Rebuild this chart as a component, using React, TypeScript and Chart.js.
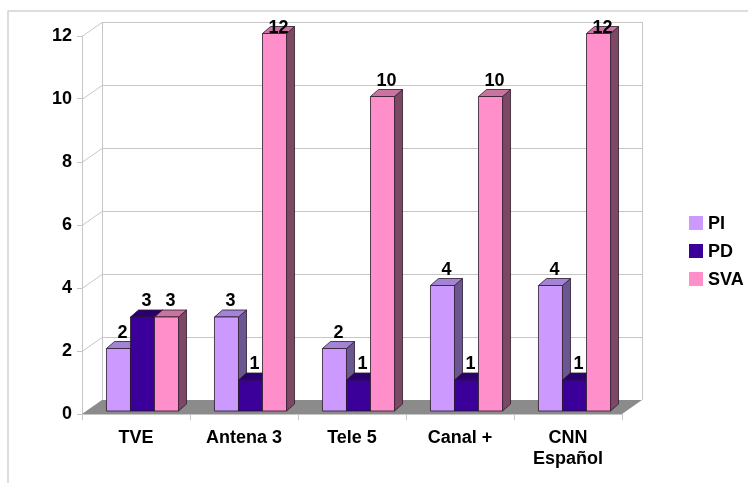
import React, { useEffect, useRef } from 'react';
import { Chart, registerables } from 'chart.js';

Chart.register(...registerables);

const categories: string[][] = [['TVE'], ['Antena 3'], ['Tele 5'], ['Canal +'], ['CNN', 'Español']];
const seriesNames = ['PI', 'PD', 'SVA'];
const piValues = [2, 3, 2, 4, 4];
const pdValues = [3, 1, 1, 1, 1];
const svaValues = [3, 12, 10, 10, 12];
const yMin = 0;
const yMax = 12;
const yStep = 2;

const faceColors = [
  { front: '#cc99ff', top: '#a383d6', side: '#6a5690' },
  { front: '#3a0099', top: '#2a0070', side: '#1f0052' },
  { front: '#ff8fcb', top: '#c9739f', side: '#7c4864' },
];

const FONT = 'bold 18px "Liberation Sans", Arial, sans-serif';
const GRID = '#c6c6c6';
const WALL_DX = 20;
const WALL_DY = -14;
const BAR_OX = 6.5;
const BAR_OY = -2.5;
const BAR_DX = 8;
const BAR_DY = -7;

const threeD = {
  id: 'threeD',
  beforeDraw(chart: any) {
    const ctx = chart.ctx;
    ctx.save();
    ctx.strokeStyle = '#d2d2d2';
    ctx.lineWidth = 1.5;
    ctx.beginPath();
    ctx.moveTo(8, chart.height);
    ctx.lineTo(8, 11);
    ctx.lineTo(chart.width - 1, 11);
    ctx.stroke();
    ctx.restore();
  },
  beforeDatasetsDraw(chart: any) {
    const ctx = chart.ctx;
    const x = chart.scales.x;
    const y = chart.scales.y;
    const L = x.left;
    const R = x.right;
    const yTop = y.getPixelForValue(yMax);
    const yBot = y.getPixelForValue(yMin);
    ctx.save();
    ctx.strokeStyle = GRID;
    ctx.lineWidth = 1;
    // floor
    ctx.fillStyle = '#8b8b8b';
    ctx.beginPath();
    ctx.moveTo(L, yBot);
    ctx.lineTo(R, yBot);
    ctx.lineTo(R + WALL_DX, yBot + WALL_DY);
    ctx.lineTo(L + WALL_DX, yBot + WALL_DY);
    ctx.closePath();
    ctx.fill();
    // grid lines on side and back wall
    for (let v = yMin + yStep; v <= yMax; v += yStep) {
      const py = Math.round(y.getPixelForValue(v)) + 0.5;
      ctx.beginPath();
      ctx.moveTo(L, py);
      ctx.lineTo(L + WALL_DX, py + WALL_DY);
      ctx.lineTo(R + WALL_DX, py + WALL_DY);
      ctx.stroke();
    }
    // back wall verticals
    ctx.beginPath();
    ctx.moveTo(L + WALL_DX + 0.5, yTop + WALL_DY);
    ctx.lineTo(L + WALL_DX + 0.5, yBot + WALL_DY);
    ctx.moveTo(R + WALL_DX + 0.5, yTop + WALL_DY);
    ctx.lineTo(R + WALL_DX + 0.5, yBot + WALL_DY);
    ctx.stroke();
    ctx.restore();
  },
  beforeDatasetDraw() {
    return false;
  },
  afterDatasetsDraw(chart: any) {
    const ctx = chart.ctx;
    const n = chart.data.labels.length;
    const metas = chart.data.datasets.map((_: any, i: number) => chart.getDatasetMeta(i));
    ctx.save();
    ctx.lineWidth = 0.8;
    ctx.strokeStyle = '#2a1a2a';
    ctx.lineJoin = 'round';
    for (let j = 0; j < n; j++) {
      metas.forEach((meta: any, i: number) => {
        const el = meta.data[j];
        const c = faceColors[i];
        const x0 = el.x - el.width / 2 + BAR_OX;
        const x1 = el.x + el.width / 2 + BAR_OX;
        const yt = el.y + BAR_OY;
        const yb = el.base + BAR_OY;
        // side
        ctx.fillStyle = c.side;
        ctx.beginPath();
        ctx.moveTo(x1, yt);
        ctx.lineTo(x1 + BAR_DX, yt + BAR_DY);
        ctx.lineTo(x1 + BAR_DX, yb + BAR_DY);
        ctx.lineTo(x1, yb);
        ctx.closePath();
        ctx.fill();
        ctx.stroke();
        // top
        ctx.fillStyle = c.top;
        ctx.beginPath();
        ctx.moveTo(x0, yt);
        ctx.lineTo(x0 + BAR_DX, yt + BAR_DY);
        ctx.lineTo(x1 + BAR_DX, yt + BAR_DY);
        ctx.lineTo(x1, yt);
        ctx.closePath();
        ctx.fill();
        ctx.stroke();
        // front
        ctx.fillStyle = c.front;
        ctx.beginPath();
        ctx.rect(x0, yt, x1 - x0, yb - yt);
        ctx.fill();
        ctx.stroke();
      });
    }
    // value labels
    ctx.fillStyle = '#000';
    ctx.font = FONT;
    ctx.textAlign = 'center';
    ctx.textBaseline = 'alphabetic';
    metas.forEach((meta: any, i: number) => {
      const data = chart.data.datasets[i].data;
      meta.data.forEach((el: any, j: number) => {
        const cx = el.x + BAR_OX + BAR_DX / 2;
        const by = Math.max(el.y + BAR_OY + BAR_DY - 4, chart.chartArea.top - 3);
        ctx.fillText(String(data[j]), cx, by);
      });
    });
    ctx.restore();
  },
  afterDraw(chart: any) {
    const ctx = chart.ctx;
    const lx = chart.chartArea.right + 67;
    const ly0 = 223;
    ctx.save();
    ctx.font = FONT;
    ctx.textAlign = 'left';
    ctx.textBaseline = 'middle';
    chart.data.datasets.forEach((ds: any, i: number) => {
      const cy = ly0 + i * 28;
      ctx.fillStyle = faceColors[i].front;
      ctx.fillRect(lx, cy - 7, 14, 14);
      ctx.fillStyle = '#000';
      ctx.fillText(ds.label, lx + 19, cy + 1);
    });
    ctx.restore();
  },
};

export default function App() {
  const ref = useRef<HTMLCanvasElement>(null);
  useEffect(() => {
    if (!ref.current) return;
    const seriesValues = [piValues, pdValues, svaValues];
    const chart = new Chart(ref.current, {
      type: 'bar',
      data: {
        labels: categories,
        datasets: seriesNames.map((name, i) => ({
          label: name,
          data: seriesValues[i],
          backgroundColor: faceColors[i].front,
          categoryPercentage: 0.667,
          barPercentage: 1,
        })),
      },
      options: {
        responsive: false,
        animation: false,
        layout: { padding: { left: 0, right: 127, top: 36, bottom: 0 } },
        plugins: {
          legend: { display: false },
          tooltip: { enabled: false },
        },
        scales: {
          x: {
            grid: {
              display: true,
              drawOnChartArea: false,
              drawTicks: true,
              tickLength: 6,
              color: GRID,
              offset: true,
            },
            border: { display: true, color: GRID },
            ticks: {
              color: '#000',
              font: { family: '"Liberation Sans", Arial, sans-serif', size: 18, weight: 'bold' },
              padding: 7,
              maxRotation: 0,
              autoSkip: false,
            },
            afterFit(scale: any) {
              scale.height = 69;
            },
          },
          y: {
            min: yMin,
            max: yMax,
            grid: {
              display: true,
              drawOnChartArea: false,
              drawTicks: true,
              tickLength: 5,
              color: GRID,
            },
            border: { display: true, color: GRID },
            ticks: {
              stepSize: yStep,
              color: '#000',
              font: { family: '"Liberation Sans", Arial, sans-serif', size: 18, weight: 'bold' },
              padding: 5,
            },
            afterFit(scale: any) {
              scale.width = 82;
            },
          },
        },
      },
      plugins: [threeD],
    } as any);
    return () => chart.destroy();
  }, []);
  return (
    <div style={{ position: 'absolute', left: 0, top: 0, width: 749, height: 483, background: '#fff' }}>
      <canvas ref={ref} width={749} height={483} style={{ display: 'block' }} />
    </div>
  );
}
